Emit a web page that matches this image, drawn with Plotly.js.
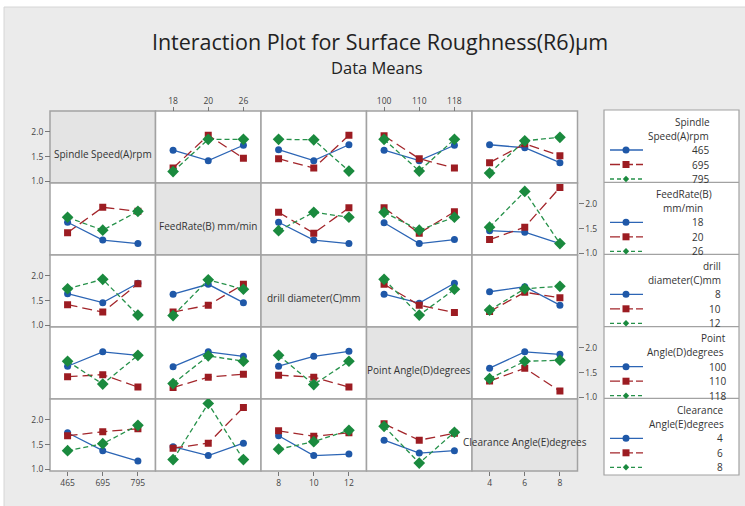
<!DOCTYPE html>
<html>
<head>
<meta charset="utf-8">
<script src="https://cdn.plot.ly/plotly-3.0.1.min.js"></script>
<style>
  html, body { margin: 0; padding: 0; background: #ffffff; }
  #chart { width: 745px; height: 506px; }
</style>
</head>
<body>
<div id="chart"></div>
<script>
// Factor levels (x categories and trace levels)
const spindleLevels   = ['465', '695', '795'];
const feedLevels      = ['18', '20', '26'];
const drillLevels     = ['8', '10', '12'];
const pointLevels     = ['100', '110', '118'];
const clearanceLevels = ['4', '6', '8'];

// Factor names shown on the diagonal and in the legend blocks
const factorNames = [
  'Spindle Speed(A)rpm',
  'FeedRate(B) mm/min',
  'drill diameter(C)mm',
  'Point Angle(D)degrees',
  'Clearance Angle(E)degrees'
];
const legendTitles = [
  ['Spindle', 'Speed(A)rpm'],
  ['FeedRate(B)', 'mm/min'],
  ['drill', 'diameter(C)mm'],
  ['Point', 'Angle(D)degrees'],
  ['Clearance', 'Angle(E)degrees']
];

// Mean surface roughness for each pair of factors:
// rows = levels of the first factor, columns = levels of the second factor
const meansAB = [[1.63, 1.42, 1.73], [1.27, 1.93, 1.47], [1.20, 1.85, 1.85]];
const meansAC = [[1.64, 1.42, 1.74], [1.46, 1.27, 1.93], [1.85, 1.84, 1.21]];
const meansAD = [[1.63, 1.42, 1.73], [1.92, 1.46, 1.27], [1.85, 1.21, 1.85]];
const meansAE = [[1.74, 1.68, 1.38], [1.38, 1.76, 1.52], [1.17, 1.82, 1.89]];
const meansBC = [[1.63, 1.27, 1.20], [1.83, 1.41, 1.92], [1.46, 1.83, 1.73]];
const meansBD = [[1.62, 1.20, 1.28], [1.92, 1.41, 1.84], [1.83, 1.47, 1.73]];
const meansBE = [[1.46, 1.43, 1.20], [1.28, 1.53, 2.33], [1.53, 2.25, 1.20]];
const meansCD = [[1.63, 1.45, 1.85], [1.83, 1.41, 1.26], [1.93, 1.21, 1.73]];
const meansCE = [[1.68, 1.78, 1.41], [1.28, 1.67, 1.56], [1.31, 1.74, 1.79]];
const meansDE = [[1.59, 1.92, 1.87], [1.33, 1.59, 1.13], [1.38, 1.73, 1.75]];

const factorLevels = [spindleLevels, feedLevels, drillLevels, pointLevels, clearanceLevels];
const pairMeans = [
  [null, meansAB, meansAC, meansAD, meansAE],
  [null, null, meansBC, meansBD, meansBE],
  [null, null, null, meansCD, meansCE],
  [null, null, null, null, meansDE]
];

// ---------- geometry (pixels, converted to paper fractions) ----------
const W = 745, H = 506;
const px = v => v / W;
const py = v => 1 - v / H;
const colEdges = [50, 155.5, 261, 366.5, 472, 577.5];
const rowEdges = [111, 183, 255, 327, 399, 471];

const FONT = 'Open Sans, Noto Sans, sans-serif';
const lineStyles = [
  { color: '#2c65b5', dash: 'solid',     symbol: 'circle',  size: 7, mcolor: '#1f58a8' },
  { color: '#a3262b', dash: '10px,5px',  symbol: 'square',  size: 7, mcolor: '#9c1c22' },
  { color: '#26914a', dash: '5px,3px',   symbol: 'diamond', size: 9, mcolor: '#1a8a3e' }
];

const layout = {
  width: W, height: H,
  margin: { l: 0, r: 0, t: 0, b: 0, pad: 0 },
  paper_bgcolor: '#ffffff',
  plot_bgcolor: 'rgba(0,0,0,0)',
  showlegend: false,
  font: { family: FONT, color: '#333333' },
  title: {
    text: 'Interaction Plot for Surface Roughness(R6)µm',
    x: 380 / W, xanchor: 'center', xref: 'container',
    y: 1 - 42 / H, yanchor: 'middle', yref: 'container',
    font: { family: FONT, size: 21.5, color: '#222222' }
  },
  shapes: [],
  annotations: []
};

// outer grey panel
layout.shapes.push({
  type: 'rect', xref: 'paper', yref: 'paper', layer: 'below',
  x0: px(4), x1: px(746), y0: py(507), y1: py(7),
  fillcolor: '#ebebeb', line: { color: '#d6d6d6', width: 1 }
});

layout.annotations.push({
  text: 'Data Means', xref: 'paper', yref: 'paper',
  x: px(377), y: py(67.5), xanchor: 'center', yanchor: 'middle',
  showarrow: false, font: { family: FONT, size: 16.5, color: '#222222' }
});

// axes: one x axis per column, one y axis per row
for (let j = 0; j < 5; j++) {
  const top = (j === 1 || j === 3);
  layout['xaxis' + (j === 0 ? '' : j + 1)] = {
    domain: [px(colEdges[j]), px(colEdges[j + 1])],
    type: 'category', categoryorder: 'array', categoryarray: factorLevels[j],
    range: [-0.5, 2.5],
    side: top ? 'top' : 'bottom', anchor: 'free',
    position: top ? py(rowEdges[0]) : py(rowEdges[5]),
    showgrid: false, zeroline: false, showline: false,
    ticks: 'outside', ticklen: 4, tickcolor: '#777777', tickwidth: 1,
    tickfont: { family: FONT, size: 8.5, color: '#444444' },
    fixedrange: true
  };
}
for (let i = 0; i < 5; i++) {
  const right = (i === 1 || i === 3);
  layout['yaxis' + (i === 0 ? '' : i + 1)] = {
    domain: [py(rowEdges[i + 1]), py(rowEdges[i])],
    range: [0.97, 2.42],
    tickvals: [1, 1.5, 2], tickformat: '.1f',
    side: right ? 'right' : 'left', anchor: 'free',
    position: right ? px(colEdges[5]) : px(colEdges[0]),
    showgrid: false, zeroline: false, showline: false,
    ticks: 'outside', ticklen: 5, tickcolor: '#777777', tickwidth: 1,
    tickfont: { family: FONT, size: 8.5, color: '#444444' },
    fixedrange: true
  };
}

// cells: white panels, grey diagonal with the factor names
for (let i = 0; i < 5; i++) {
  for (let j = 0; j < 5; j++) {
    const diag = i === j;
    layout.shapes.push({
      type: 'rect', xref: 'paper', yref: 'paper', layer: 'below',
      x0: px(colEdges[j]), x1: px(colEdges[j + 1]),
      y0: py(rowEdges[i + 1]), y1: py(rowEdges[i]),
      fillcolor: diag ? '#e4e4e4' : '#ffffff',
      line: { color: '#a2a2a2', width: 1.5 }
    });
    if (diag) {
      layout.annotations.push({
        text: factorNames[i], xref: 'paper', yref: 'paper',
        x: px((colEdges[j] + colEdges[j + 1]) / 2),
        y: py((rowEdges[i] + rowEdges[i + 1]) / 2 + 7),
        xanchor: 'center', yanchor: 'middle', showarrow: false,
        font: { family: FONT, size: 10, color: '#333333' }
      });
    }
  }
}

// interaction traces
const traces = [];
for (let i = 0; i < 5; i++) {
  for (let j = 0; j < 5; j++) {
    if (i === j) continue;
    for (let k = 0; k < 3; k++) {
      let yvals;
      if (i < j) yvals = pairMeans[i][j][k];
      else yvals = pairMeans[j][i].map(r => r[k]);
      const st = lineStyles[k];
      traces.push({
        type: 'scatter', mode: 'lines+markers',
        x: factorLevels[j], y: yvals,
        name: factorLevels[i][k],
        xaxis: 'x' + (j === 0 ? '' : j + 1),
        yaxis: 'y' + (i === 0 ? '' : i + 1),
        line: { color: st.color, width: 1.3, dash: st.dash },
        marker: { symbol: st.symbol, size: st.size, color: st.mcolor, line: { width: 0 } },
        hoverinfo: 'x+y+name'
      });
    }
  }
}

// legend blocks on the right
const legLeft = 604, legRight = 739, legTop = 110, legBottom = 475;
const sectionTops = [110, 182.3, 254.3, 326.7, 398.3];
const titleRight = [[712, 711], [714, 705], [723, 723], [728, 726], [726, 726]];
const valueRight = [711, 706, 723, 728, 725];

layout.shapes.push({
  type: 'rect', xref: 'paper', yref: 'paper', layer: 'below',
  x0: px(legLeft), x1: px(legRight), y0: py(legBottom), y1: py(legTop),
  fillcolor: '#ffffff', line: { color: '#a2a2a2', width: 1.2 }
});
for (let s = 1; s < 5; s++) {
  layout.shapes.push({
    type: 'line', xref: 'paper', yref: 'paper', layer: 'above',
    x0: px(legLeft), x1: px(legRight), y0: py(sectionTops[s]), y1: py(sectionTops[s]),
    line: { color: '#a2a2a2', width: 1.2 }
  });
}

function legendText(text, xr, yc) {
  layout.annotations.push({
    text: text, xref: 'paper', yref: 'paper', x: px(xr), y: py(yc),
    xanchor: 'right', yanchor: 'middle', showarrow: false,
    font: { family: FONT, size: 10, color: '#333333' }
  });
}

function legendSwatch(k, yc) {
  const st = lineStyles[k];
  layout.shapes.push({
    type: 'line', xref: 'paper', yref: 'paper', layer: 'above',
    x0: px(610), x1: px(643), y0: py(yc), y1: py(yc),
    line: { color: st.color, width: 1.3, dash: k === 0 ? 'solid' : (k === 1 ? '10px,3px' : '4px,3px') }
  });
  const cx = 626;
  if (k === 0) {
    layout.shapes.push({
      type: 'circle', xref: 'paper', yref: 'paper', layer: 'above',
      x0: px(cx - 3.5), x1: px(cx + 3.5), y0: py(yc + 3.5), y1: py(yc - 3.5),
      fillcolor: st.mcolor, line: { width: 0 }
    });
  } else if (k === 1) {
    layout.shapes.push({
      type: 'rect', xref: 'paper', yref: 'paper', layer: 'above',
      x0: px(cx - 3.5), x1: px(cx + 3.5), y0: py(yc + 3.5), y1: py(yc - 3.5),
      fillcolor: st.mcolor, line: { width: 0 }
    });
  } else {
    const r = 3.2;
    const path = 'M' + px(cx) + ',' + py(yc - r) + ' L' + px(cx + r) + ',' + py(yc) +
                 ' L' + px(cx) + ',' + py(yc + r) + ' L' + px(cx - r) + ',' + py(yc) + ' Z';
    layout.shapes.push({
      type: 'path', xref: 'paper', yref: 'paper', layer: 'above',
      path: path, fillcolor: st.mcolor, line: { width: 0 }
    });
  }
}

for (let s = 0; s < 5; s++) {
  const T = sectionTops[s];
  legendText(legendTitles[s][0], titleRight[s][0], T + 11.5);
  legendText(legendTitles[s][1], titleRight[s][1], T + 25.5);
  for (let k = 0; k < 3; k++) {
    const yc = T + 40 + 14.5 * k;
    legendSwatch(k, yc);
    legendText(factorLevels[s][k], valueRight[s], yc);
  }
}

Plotly.newPlot('chart', traces, layout, { displayModeBar: false, staticPlot: true });
</script>
</body>
</html>
